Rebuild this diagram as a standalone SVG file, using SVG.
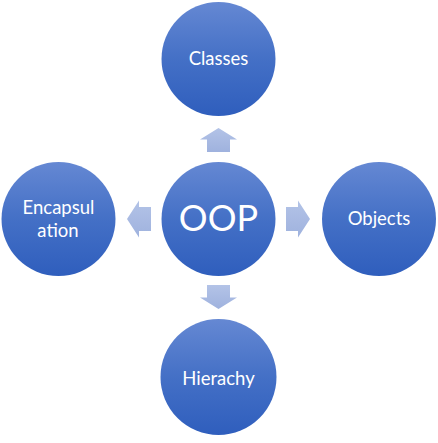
<svg xmlns="http://www.w3.org/2000/svg" width="438" height="443" viewBox="0 0 438 443">
  <style>
    .node circle { fill: url(#cg); }
    .lbl { fill: #ffffff; font-family: Lato, "Open Sans", "Liberation Sans", sans-serif; font-size: 18.5px; text-anchor: middle; }
    .big { font-size: 36px; }
    .arr { fill: url(#ag); }
  </style>
  <defs>
    <linearGradient id="cg" x1="0" y1="0" x2="0" y2="1">
      <stop offset="0" stop-color="#6588d3"/>
      <stop offset="0.5" stop-color="#4470c6"/>
      <stop offset="1" stop-color="#2f5ebd"/>
    </linearGradient>
    <linearGradient id="ag" x1="0" y1="0" x2="0" y2="1">
      <stop offset="0" stop-color="#b3c3e7"/>
      <stop offset="1" stop-color="#9fb2de"/>
    </linearGradient>
  </defs>
  <g id="connectors">
    <polygon class="arr" points="218.5,128 237,139.5 230,139.5 230,152 207,152 207,139.5 200,139.5"/>
    <polygon class="arr" points="218.5,309 237,297.5 230,297.5 230,285 207,285 207,297.5 200,297.5"/>
    <polygon class="arr" points="127,219 139,200.5 139,207 151,207 151,231 139,231 139,237.5"/>
    <polygon class="arr" points="310,219 298,200.5 298,207 286,207 286,231 298,231 298,237.5"/>
  </g>
  <g id="node-classes" class="node">
    <circle cx="218.5" cy="59" r="57"/>
    <text class="lbl" x="218.5" y="65">Classes</text>
  </g>
  <g id="node-oop" class="node">
    <circle cx="218.5" cy="219" r="57"/>
    <text class="lbl big" x="218.5" y="230.5">OOP</text>
  </g>
  <g id="node-objects" class="node">
    <circle cx="379" cy="219" r="57"/>
    <text class="lbl" x="379" y="225">Objects</text>
  </g>
  <g id="node-hierachy" class="node">
    <circle cx="218.5" cy="377" r="58"/>
    <text class="lbl" x="218.5" y="385">Hierachy</text>
  </g>
  <g id="node-encapsulation" class="node">
    <circle cx="58.5" cy="219" r="57"/>
    <text class="lbl" x="58.5" y="214">Encapsul</text>
    <text class="lbl" x="58" y="237">ation</text>
  </g>
</svg>
